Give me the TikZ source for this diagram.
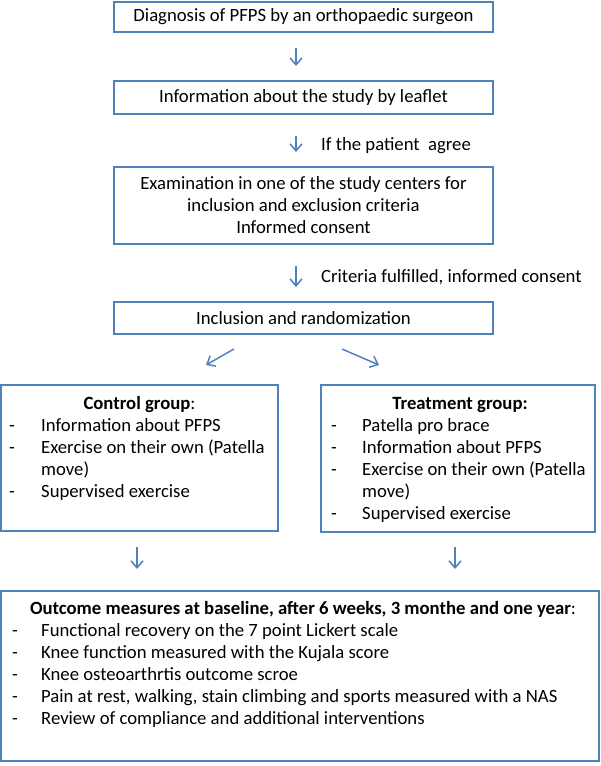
\documentclass[tikz,border=0pt]{standalone}
\usepackage{fontspec}
\setmainfont{Carlito}
\usetikzlibrary{arrows.meta}
\definecolor{bblue}{RGB}{79,129,189}
\newcommand\myfs{\fontsize{18.7}{22}\selectfont}
\begin{document}
\begin{tikzpicture}[x=1pt,y=-1pt,
  box/.style={draw=bblue,line width=1.1pt,inner sep=0pt,outer sep=0pt,font=\myfs,rectangle},
  txt/.style={font=\myfs,inner sep=0pt,anchor=base west},
  ttl/.style={font=\myfs,inner sep=0pt,anchor=base},
  arr/.style={draw=bblue,line width=1.5pt,-{Straight Barb[length=7pt,width=12pt]}}]
\useasboundingbox (0,0) rectangle (600,766);
% boxes
\node[box,minimum width=379pt,minimum height=30pt] (b1) at (303.5,17) {Diagnosis of PFPS by an orthopaedic surgeon};
\node[box,minimum width=379pt,minimum height=33pt] (b2) at (303.5,97.5) {Information about the study by leaflet};
\node[box,minimum width=379pt,minimum height=77pt,align=center] (b3) at (303.5,205.5) {Examination in one of the study centers for\\inclusion and exclusion criteria\\Informed consent};
\node[box,minimum width=379pt,minimum height=32pt] (b4) at (303.5,318) {Inclusion and randomization};
\node[box,minimum width=277pt,minimum height=146pt] (ctrl) at (139.5,458) {};
\node[box,minimum width=274pt,minimum height=147pt] (trt) at (458,458.5) {};
\node[box,minimum width=598pt,minimum height=170pt] (out) at (300,676) {};
% labels
\node[txt] (l1) at (321,150) {If the patient\ \ agree};
\node[txt] (l2) at (321,282) {Criteria fulfilled, informed consent};
% control group
\node[ttl] (ct) at (139.5,409) {\textbf{Control group}:};
\node[txt] (c1) at (9,431) {\makebox[32pt][l]{-}Information about PFPS};
\node[txt] (c2) at (9,453) {\makebox[32pt][l]{-}Exercise on their own (Patella};
\node[txt] (c3) at (41,475) {move)};
\node[txt] (c4) at (9,497) {\makebox[32pt][l]{-}Supervised exercise};
% treatment group
\node[ttl] (tt) at (460,409) {\textbf{Treatment group:}};
\node[txt] (t1) at (331,431) {\makebox[31pt][l]{-}Patella pro brace};
\node[txt] (t2) at (331,453) {\makebox[31pt][l]{-}Information about PFPS};
\node[txt] (t3) at (331,475) {\makebox[31pt][l]{-}Exercise on their own (Patella};
\node[txt] (t4) at (362,497) {move)};
\node[txt] (t5) at (331,519) {\makebox[31pt][l]{-}Supervised exercise};
% outcome
\node[ttl] (ot) at (303,614) {\textbf{Outcome measures at baseline, after 6 weeks, 3 monthe and one year}:};
\node[txt] (o1) at (12,636) {\makebox[29pt][l]{-}Functional recovery on the 7 point Lickert scale};
\node[txt] (o2) at (12,658) {\makebox[29pt][l]{-}Knee function measured with the Kujala score};
\node[txt] (o3) at (12,680) {\makebox[29pt][l]{-}Knee osteoarthrtis outcome scroe};
\node[txt] (o4) at (12,702) {\makebox[29pt][l]{-}Pain at rest, walking, stain climbing and sports measured with a NAS};
\node[txt] (o5) at (12,724) {\makebox[29pt][l]{-}Review of compliance and additional interventions};
% arrows
\coordinate (a1s) at (296,48);  \coordinate (a1e) at (296,66);
\coordinate (a2s) at (296,136); \coordinate (a2e) at (296,152);
\coordinate (a3s) at (296,266); \coordinate (a3e) at (296,287);
\coordinate (d1s) at (234,349); \coordinate (d1e) at (206,365);
\coordinate (d2s) at (342,349); \coordinate (d2e) at (379,365);
\coordinate (e1s) at (137,547); \coordinate (e1e) at (137,569);
\coordinate (e2s) at (455,547); \coordinate (e2e) at (455,569);
\draw[arr] (a1s) -- (a1e);
\draw[arr] (a2s) -- (a2e);
\draw[arr] (a3s) -- (a3e);
\draw[arr] (d1s) -- (d1e);
\draw[arr] (d2s) -- (d2e);
\draw[arr] (e1s) -- (e1e);
\draw[arr] (e2s) -- (e2e);
\end{tikzpicture}
\end{document}
